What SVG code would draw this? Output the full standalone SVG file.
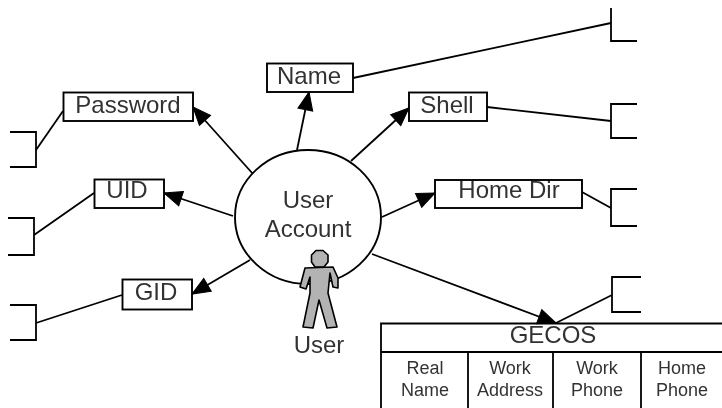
<svg xmlns="http://www.w3.org/2000/svg" width="722" height="408" viewBox="0 0 722 408">
<style>
text{font-family:"Liberation Sans",Arial,sans-serif;font-size:24px;fill:#333;text-anchor:middle}
text.s{font-size:18px}
.b{fill:#fff;stroke:#000;stroke-width:1.9}
.l{fill:none;stroke:#000;stroke-width:1.8}
.a{marker-end:url(#ah)}
</style>
<defs>
<marker id="ah" markerUnits="userSpaceOnUse" markerWidth="22" markerHeight="20" refX="19" refY="9" orient="auto" viewBox="0 0 22 18"><path d="M1,1.500 L19,9 L1,16.500 Z" fill="#000" stroke="#000"/></marker>
<filter id="soft" x="0" y="0" width="100%" height="100%"><feGaussianBlur stdDeviation="0.5"/></filter>
</defs>
<rect width="722" height="408" fill="#fff"/>
<g filter="url(#soft)">
<g id="connectors">
<path class="l a" d="M253,174L193,107"/>
<path class="l a" d="M233,216L164,193"/>
<path class="l a" d="M250,260L192,294"/>
<path class="l a" d="M297,150L309,92"/>
<path class="l a" d="M351,161L409,108"/>
<path class="l a" d="M382,217L435,193"/>
<path class="l a" d="M372,254L556,323"/>
<path class="l" d="M36,150L63,111"/>
<path class="l" d="M34,235L94,193"/>
<path class="l" d="M36,323L122,295"/>
<path class="l" d="M353,78L611,23"/>
<path class="l" d="M487,107L611,121"/>
<path class="l" d="M582,192L611,208"/>
<path class="l" d="M612,295L556,323"/>
</g>
<g id="bracket-left-1"><path class="l" d="M10,132H36V167H10"/></g>
<g id="bracket-left-2"><path class="l" d="M8,218H34V255H8"/></g>
<g id="bracket-left-3"><path class="l" d="M10,305H36V340H10"/></g>
<g id="bracket-right-1"><path class="l" d="M611,8V41H637"/></g>
<g id="bracket-right-2"><path class="l" d="M637,104H611V138H637"/></g>
<g id="bracket-right-3"><path class="l" d="M637,189H611V226H637"/></g>
<g id="bracket-right-4"><path class="l" d="M641,277H612V312H641"/></g>
<g id="password"><rect class="b" x="63.500" y="92.500" width="129.500" height="28.500"/><text x="128" y="113">Password</text></g>
<g id="uid"><rect class="b" x="94.500" y="179.500" width="69.500" height="28.500"/><text x="127" y="198">UID</text></g>
<g id="gid"><rect class="b" x="122.500" y="279.500" width="69.500" height="30"/><text x="156" y="300">GID</text></g>
<g id="name"><rect class="b" x="267" y="63.500" width="86" height="28.500"/><text x="309" y="84">Name</text></g>
<g id="shell"><rect class="b" x="409" y="92.500" width="78" height="28.500"/><text x="447" y="113">Shell</text></g>
<g id="home-dir"><rect class="b" x="435" y="180" width="147" height="28"/><text x="509" y="198">Home Dir</text></g>
<g id="user-account"><ellipse class="b" cx="308" cy="217" rx="73" ry="67"/><text x="308" y="208">User</text><text x="308" y="237">Account</text></g>
<g id="user">
<path d="M316,250.500H323L328,255V262L324,267H315L311.500,262V255Z" fill="#b3b3b3" stroke="#000" stroke-width="1.600" stroke-linejoin="round"/>
<path d="M305,268L333,267L338,278L338,288L333,287L330,273L328,293L337,327L327,328L319,300L313,328L303,327L310,293L310,277L306,289L300,287Z" fill="#b3b3b3" stroke="#000" stroke-width="1.600" stroke-linejoin="round"/>
<text x="319" y="353">User</text>
</g>
<g id="gecos">
<path class="l" d="M381,408V323.500H722M381,352H722M468,352V408M553,352V408M641,352V408" fill="#fff"/>
<text x="553" y="343">GECOS</text>
<text class="s" x="425" y="374">Real</text><text class="s" x="425" y="396">Name</text>
<text class="s" x="510" y="374">Work</text><text class="s" x="510" y="396">Address</text>
<text class="s" x="597" y="374">Work</text><text class="s" x="597" y="396">Phone</text>
<text class="s" x="682" y="374">Home</text><text class="s" x="682" y="396">Phone</text>
</g>
</g>
</svg>
